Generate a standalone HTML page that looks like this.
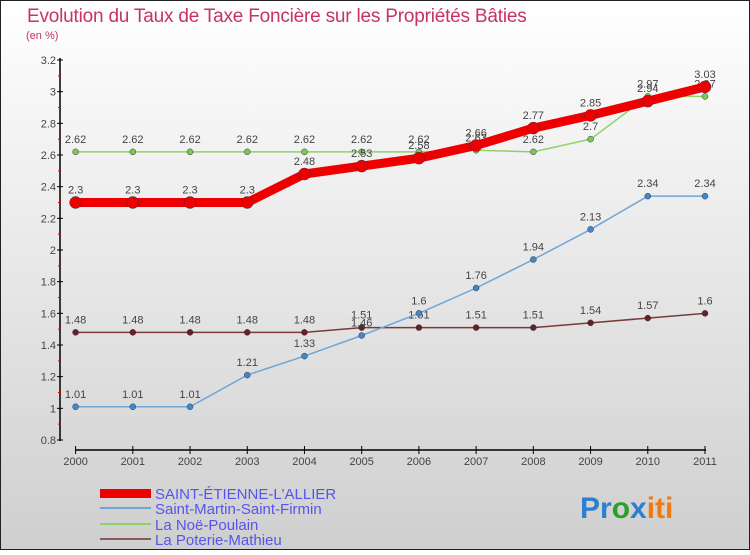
<!DOCTYPE html>
<html><head><meta charset="utf-8"><style>
body{margin:0;width:750px;height:550px;overflow:hidden}
svg text{font-family:"Liberation Sans",sans-serif}
</style></head><body>
<svg id="c" width="750" height="550" xmlns="http://www.w3.org/2000/svg">
<defs><linearGradient id="bg" x1="0" y1="0" x2="0" y2="1"><stop offset="0" stop-color="#ffffff"/><stop offset="1" stop-color="#cfcfcf"/></linearGradient></defs>
<rect x="0.5" y="0.5" width="749" height="549" fill="url(#bg)" stroke="#222"/>
<text x="27" y="22" font-size="19" fill="#c8316a" letter-spacing="-0.2">Evolution du Taux de Taxe Foncière sur les Propriétés Bâties</text>
<text x="26" y="39" font-size="11" fill="#c8316a">(en %)</text>
<g id="axes"></g><g id="series"></g>
<g>
<rect x="100" y="489" width="51" height="9" fill="#e00"/>
<text x="155" y="499" font-size="15" fill="#5555ee">SAINT-ÉTIENNE-L'ALLIER</text>
<line x1="100" y1="508" x2="151" y2="508" stroke="#6fa6d6" stroke-width="2"/>
<text x="155" y="514" font-size="15" fill="#5555ee">Saint-Martin-Saint-Firmin</text>
<line x1="100" y1="524" x2="151" y2="524" stroke="#8dd36a" stroke-width="2"/>
<text x="155" y="530" font-size="15" fill="#5555ee">La Noë-Poulain</text>
<line x1="100" y1="539" x2="151" y2="539" stroke="#8a5a5a" stroke-width="2"/>
<text x="155" y="545" font-size="15" fill="#5555ee">La Poterie-Mathieu</text>
</g>
<text x="580" y="518" font-size="30" font-weight="bold"><tspan fill="#2a7fd0">Pr</tspan><tspan fill="#2aa02a">o</tspan><tspan fill="#2a7fd0">x</tspan><tspan fill="#f07a10">iti</tspan></text>
</svg>
<script>
const years=[2000,2001,2002,2003,2004,2005,2006,2007,2008,2009,2010,2011];
const yTicks=[0.8,1,1.2,1.4,1.6,1.8,2,2.2,2.4,2.6,2.8,3,3.2];
const yTickLabels=["0.8","1","1.2","1.4","1.6","1.8","2","2.2","2.4","2.6","2.8","3","3.2"];
const stEtienne=[2.3,2.3,2.3,2.3,2.48,2.53,2.58,2.66,2.77,2.85,2.94,3.03];
const stMartin=[1.01,1.01,1.01,1.21,1.33,1.46,1.6,1.76,1.94,2.13,2.34,2.34];
const noePoulain=[2.62,2.62,2.62,2.62,2.62,2.62,2.62,2.63,2.62,2.7,2.97,2.97];
const poterie=[1.48,1.48,1.48,1.48,1.48,1.51,1.51,1.51,1.51,1.54,1.57,1.6];
const NS="http://www.w3.org/2000/svg";
const x=i=>75.6+i*(705-75.6)/11;
const y=v=>440-(v-0.8)*(380/2.4);
function mk(t,a,p){const e=document.createElementNS(NS,t);for(const k in a)e.setAttribute(k,a[k]);p.appendChild(e);return e;}
const ax=document.getElementById('axes');
const yl=mk('line',{x1:60,y1:58,x2:60,y2:441,stroke:'#000','stroke-width':1.5},ax);


const xl=mk('line',{x1:75,y1:450,x2:706,y2:450,stroke:'#000','stroke-width':1.5},ax);


yTicks.forEach((v,i)=>{
 mk('line',{x1:57,y1:y(v),x2:63,y2:y(v),stroke:'#000'},ax);
 if(i<yTicks.length-1)mk('line',{x1:58,y1:y(v+0.1),x2:61,y2:y(v+0.1),stroke:'#d00'},ax);
 const t=mk('text',{x:56,y:y(v)+4,'font-size':11,fill:'#444','text-anchor':'end'},ax);
 t.textContent=yTickLabels[i];
 
 
});
years.forEach((yr,i)=>{
 mk('line',{x1:x(i),y1:446,x2:x(i),y2:454,stroke:'#000'},ax);
 const t=mk('text',{x:x(i),y:465,'font-size':11,fill:'#444','text-anchor':'middle'},ax);
 t.textContent=yr;
 
 
});
const sg=document.getElementById('series');
function series(vals,name,col,w,r,dot){
 const g=mk('g',{},sg);
 
 
 mk('polyline',{points:vals.map((v,i)=>x(i)+','+y(v)).join(' '),fill:'none',stroke:col,'stroke-width':w,'stroke-linejoin':'round'},g);
 vals.forEach((v,i)=>{
  const c=mk('circle',{cx:x(i),cy:y(v),r:r,fill:dot,stroke:'#335','stroke-width':0.5},g);
  
  
  const t=mk('text',{x:x(i),y:y(v)-9,'font-size':11,fill:'#444','text-anchor':'middle'},g);
  t.textContent=String(v);
  
  
 });
}
series(noePoulain,'series-la-noe-poulain','#8dd36a',1.5,3,'#7cc94f');
series(poterie,'series-la-poterie-mathieu','#7a3a3a',1.5,3,'#6a2020');
series(stMartin,'series-saint-martin','#6fa6d6',1.5,3,'#3e8ac8');
series(stEtienne,'series-saint-etienne','#ee0000',9,6,'#ee0000');
</script>
</body></html>
